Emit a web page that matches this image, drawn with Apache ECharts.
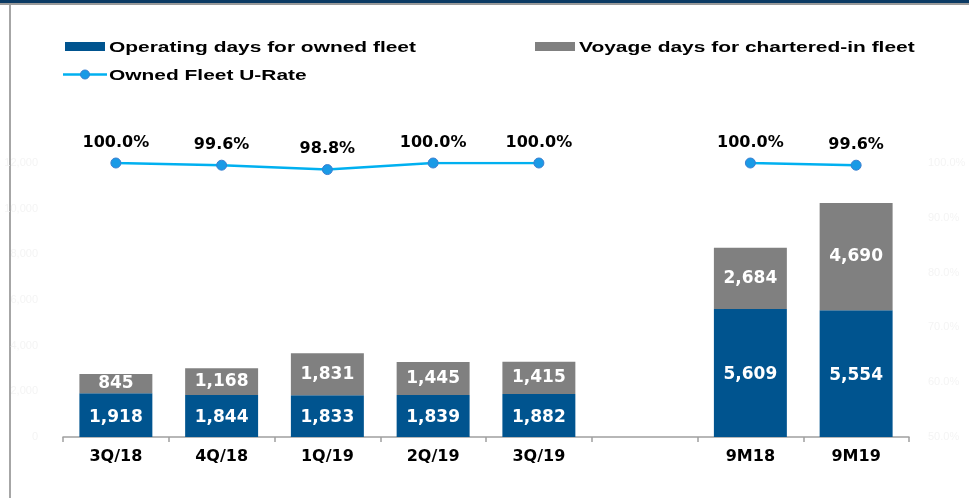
<!DOCTYPE html>
<html>
<head>
<meta charset="utf-8">
<script src="https://cdn.jsdelivr.net/npm/echarts@6/dist/echarts.min.js"></script>
<style>
html,body{margin:0;padding:0;background:#fff;}
#c{width:969px;height:498px;}
</style>
</head>
<body>
<div id="c"></div>
<script>
const categories = ['3Q/18','4Q/18','1Q/19','2Q/19','3Q/19','','9M18','9M19'];
const ownedDays = [1918,1844,1833,1839,1882,null,5609,5554];
const charteredDays = [845,1168,1831,1445,1415,null,2684,4690];
const uRate = [100.0,99.6,98.8,100.0,100.0,null,100.0,99.6];
const seriesNames = ['Operating days for owned fleet','Voyage days for chartered-in fleet','Owned Fleet U-Rate'];
const leftTicks = [0,2000,4000,6000,8000,10000,12000];
const rightTicks = [50,60,70,80,90,100];

const NAVY = '#00548f';
const GRAY = '#808080';
const BLUE = '#00b0f0';
const DOT = '#1a9ae6';
const LABEL_FONT = 'DejaVu Sans';
const LEGEND_FONT = 'bold 15.5px "Liberation Sans", Arial, sans-serif';

const chart = echarts.init(document.getElementById('c'), null, {renderer:'canvas'});
const fmt = v => (v == null ? '' : Number(v).toLocaleString('en-US'));

function legendText(x, y, text) {
  return {type:'text', x:x, y:y, scaleX:1.35, silent:true,
    style:{text:text, font:LEGEND_FONT, fill:'#000', verticalAlign:'middle', align:'left'}};
}

chart.setOption({
  animation: false,
  backgroundColor: '#fff',
  graphic: [
    {type:'rect', left:0, top:0, shape:{width:969, height:3}, style:{fill:'#0b3a64'}, silent:true},
    {type:'rect', left:0, top:3, shape:{width:969, height:2}, style:{fill:'#9a9a9a'}, silent:true},
    {type:'rect', left:9, top:5, shape:{width:2, height:493}, style:{fill:'#a6a6a6'}, silent:true},
    {type:'rect', x:65, y:42, shape:{width:40, height:9}, style:{fill:NAVY}, silent:true},
    legendText(109, 47.5, seriesNames[0]),
    {type:'rect', x:535, y:42, shape:{width:40, height:9}, style:{fill:GRAY}, silent:true},
    legendText(579, 47.5, seriesNames[1]),
    {type:'line', shape:{x1:63, y1:74.5, x2:107, y2:74.5}, style:{stroke:BLUE, lineWidth:2.5}, silent:true},
    {type:'circle', shape:{cx:85, cy:74.5, r:4.5}, style:{fill:DOT, stroke:'#3b7fd0', lineWidth:1}, silent:true},
    legendText(109, 75.5, seriesNames[2])
  ],
  grid: {left:63, right:60, top:163, bottom:61, containLabel:false},
  xAxis: {
    type:'category',
    data: categories,
    axisLine: {lineStyle:{color:'#a0a0a0', width:1.5}},
    axisTick: {show:true, length:5, lineStyle:{color:'#a0a0a0', width:1.5}},
    axisLabel: {color:'#000', fontFamily:LABEL_FONT, fontWeight:'bold', fontSize:16, margin:12}
  },
  yAxis: [
    {
      type:'value', min:leftTicks[0], max:leftTicks[leftTicks.length-1], interval:2000,
      splitLine:{show:false}, axisLine:{show:false}, axisTick:{show:false},
      axisLabel:{color:'#f4f4f4', fontSize:11, margin:25, formatter: v => fmt(v)}
    },
    {
      type:'value', position:'right', min:rightTicks[0], max:rightTicks[rightTicks.length-1], interval:10,
      splitLine:{show:false}, axisLine:{show:false}, axisTick:{show:false},
      axisLabel:{color:'#f4f4f4', fontSize:11, margin:19, formatter: v => v.toFixed(1) + '%'}
    }
  ],
  series: [
    {
      name:seriesNames[0], type:'bar', stack:'days', yAxisIndex:0,
      data: ownedDays, barCategoryGap:'31%',
      itemStyle:{color:NAVY},
      label:{show:true, position:'inside', offset:[0,2], color:'#fff', fontFamily:LABEL_FONT, fontWeight:'bold', fontSize:17, formatter:p => fmt(p.value)}
    },
    {
      name:seriesNames[1], type:'bar', stack:'days', yAxisIndex:0,
      data: charteredDays, barCategoryGap:'31%',
      itemStyle:{color:GRAY},
      label:{show:true, position:'inside', color:'#fff', fontFamily:LABEL_FONT, fontWeight:'bold', fontSize:17, formatter:p => fmt(p.value)}
    },
    {
      name:seriesNames[2], type:'line', yAxisIndex:1,
      data: uRate, connectNulls:false,
      symbol:'circle', symbolSize:10,
      lineStyle:{color:BLUE, width:2.5},
      itemStyle:{color:DOT, borderColor:'#3b7fd0', borderWidth:1},
      label:{show:true, position:'top', distance:7, color:'#000', fontFamily:LABEL_FONT, fontWeight:'bold', fontSize:16, formatter:p => p.value.toFixed(1) + '%'}
    }
  ]
});
</script>
</body>
</html>
